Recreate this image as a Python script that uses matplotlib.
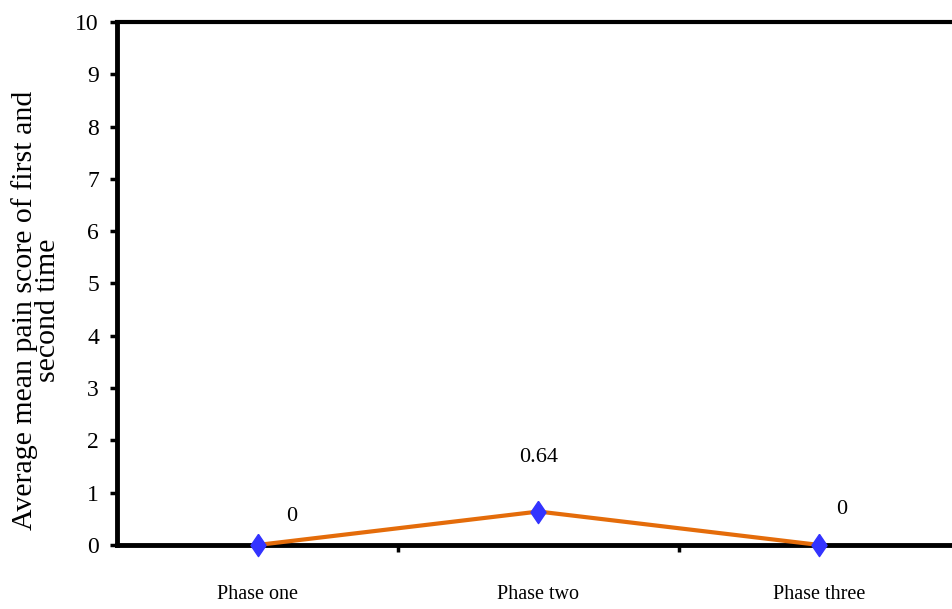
import matplotlib.pyplot as plt

# data
phases = ["Phase one", "Phase two", "Phase three"]
pain_score = [0, 0.64, 0]
value_labels = ["0", "0.64", "0"]

plt.rcParams['font.family'] = ['Liberation Serif', 'DejaVu Serif']

fig = plt.figure(figsize=(9.52, 6.09), dpi=100)
# axes runs a little past the right edge of the figure, like the original
ax = fig.add_axes([0.1229, 0.1051, 0.8855, 0.8588])

x = list(range(len(phases)))
ax.plot(x, pain_score, color='#E46C0A', lw=3, zorder=3, clip_on=False)
# tall diamond marker like excel's
diamond = [(0, 1), (0.68, 0), (0, -1), (-0.68, 0), (0, 1)]
ax.plot(x, pain_score, ls='none', marker=diamond, ms=16, color='#3333FF',
        mec='#3333FF', zorder=4, clip_on=False)

# value labels, placed like the excel ones
offsets = [(34, 28), (0, 54), (22, 35)]
for xi, yi, lab, off in zip(x, pain_score, value_labels, offsets):
    ax.annotate(lab, (xi, yi), xytext=off, textcoords='offset pixels',
                ha='center', va='center', fontsize=16)

ax.set_xlim(-0.5, 2.5)
ax.set_ylim(0, 10)
ax.set_yticks(range(0, 11))
ax.set_yticklabels([str(v) for v in range(0, 11)], fontsize=17)
ax.set_xticks(x)
ax.set_xticklabels(phases, fontsize=14.5)
ax.set_xticks([0.5, 1.5], minor=True)
ax.tick_params(axis='x', which='major', length=0, pad=29)
ax.tick_params(axis='x', which='minor', length=5, width=2.5, direction='out')
ax.tick_params(axis='y', length=5, width=2.5, direction='out', pad=8)

for side in ['left', 'bottom']:
    ax.spines[side].set_linewidth(3.5)
ax.spines['top'].set_linewidth(3)
ax.spines['right'].set_visible(False)

ax.set_ylabel("Average mean pain score of first and\nsecond time", fontsize=21.5,
              linespacing=0.88)
ax.yaxis.set_label_coords(-0.066, 0.449)

fig.savefig("out.png", dpi=100)
